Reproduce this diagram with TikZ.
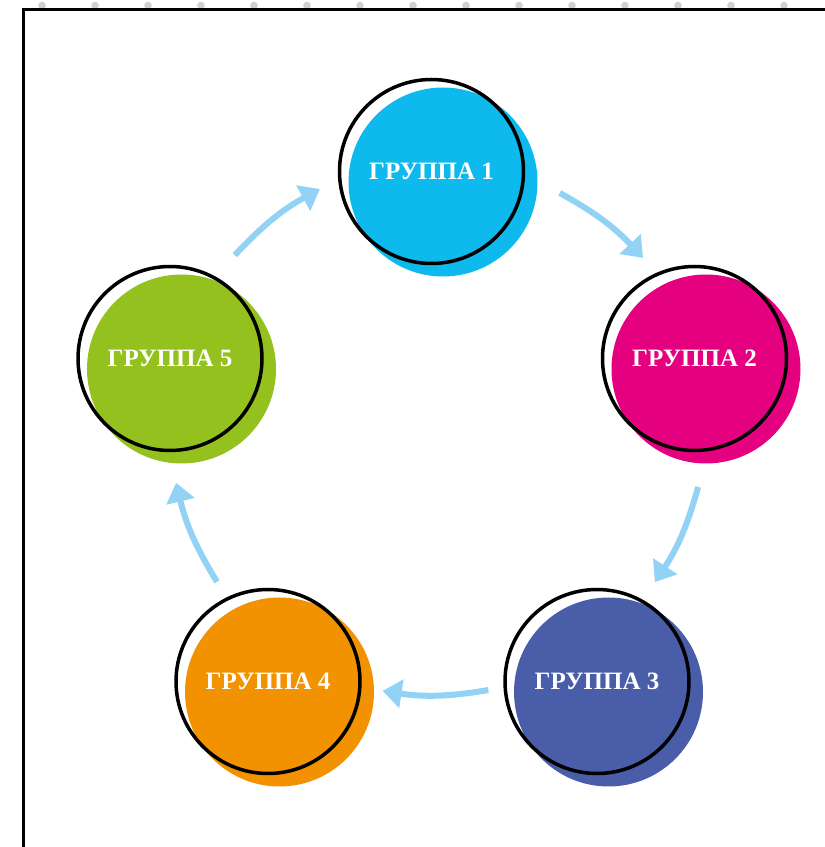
\documentclass[tikz,border=0pt]{standalone}
\usepackage{fontspec}
\setmainfont{Liberation Serif}
\usetikzlibrary{arrows.meta,calc}
\definecolor{gcyan}{RGB}{13,185,237}
\definecolor{gpink}{RGB}{228,0,127}
\definecolor{gblue}{RGB}{73,93,168}
\definecolor{gorange}{RGB}{243,146,0}
\definecolor{ggreen}{RGB}{149,193,31}
\definecolor{flowblue}{RGB}{145,210,245}
\definecolor{dotgray}{RGB}{208,208,208}

\begin{document}
\begin{tikzpicture}[x=1pt, y=1pt, >={Triangle[length=19pt,width=28pt]}, every node/.style={font=\bfseries\fontsize{25}{30}\selectfont}]
  \tikzstyle{blob}=[circle, minimum size=189pt, inner sep=0pt]
  \tikzstyle{ring}=[circle, draw, line width=3.5pt, minimum size=184pt, inner sep=0pt, text=white]
  \tikzstyle{flow}=[->, line width=6pt, draw=flowblue]
  \useasboundingbox (0,0) rectangle (825,847);
  \foreach \x in {42,95,...,784}{
    \fill[dotgray] (\x,841.5) circle (3.8pt);
  }
  \draw[line width=2.5pt] (23.3,-5) -- (23.3,837.7) -- (830,837.7);
  \foreach \n/\x/\y/\c in {1/431.5/675.5/gcyan, 2/694.5/488.5/gpink, 3/597/165.5/gblue, 4/268/165.5/gorange, 5/170/488.5/ggreen}{
    \node[blob, fill=\c] (f\n) at (\x+11.5,\y-10.5) {};
    \node[ring] (g\n) at (\x,\y) {ГРУППА \n};
  }
  \foreach \a/\sa/\sr/\b/\ea/\er in {1/-9.5/130/2/117.1/113, 2/-88.4/128.5/3/59.8/115, 3/184.5/109/4/-4.7/115, 4/117.1/112/5/-87.2/124.5, 5/57.9/122/1/188.9/113}{
    \draw[flow] ($(g\a)+(\sa:\sr)$) to[bend left=9] ($(g\b)+(\ea:\er)$);
  }
\end{tikzpicture}
\end{document}
